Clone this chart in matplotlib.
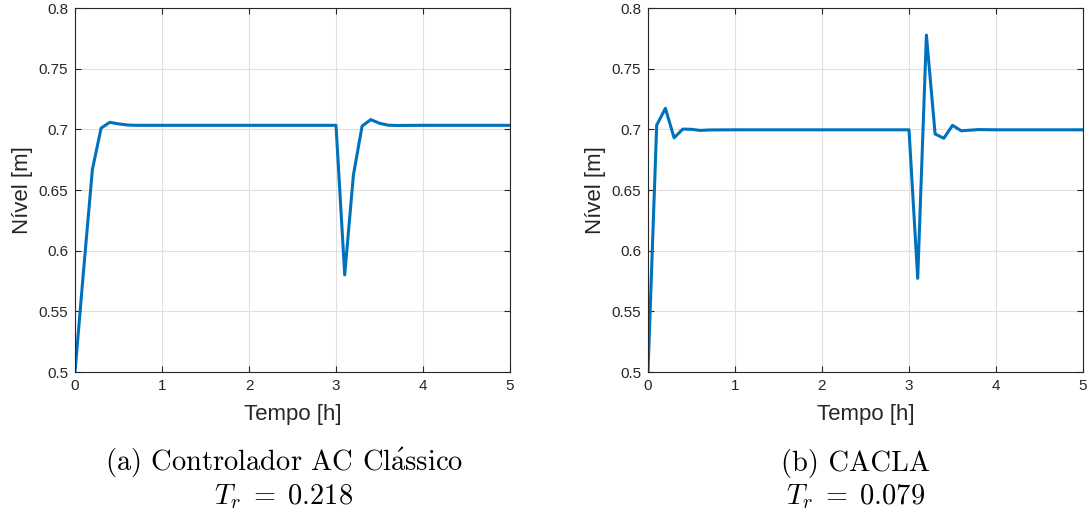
import numpy as np
import matplotlib
matplotlib.use("Agg")
import matplotlib.pyplot as plt

plt.rcParams['mathtext.fontset'] = 'cm'

# ---- data ----
t_a = [0.0, 0.1, 0.2, 0.3, 0.4, 0.5, 0.6, 0.7, 1.0, 2.0, 3.0, 3.1, 3.2, 3.3, 3.4, 3.5, 3.6, 3.7, 4.0, 5.0]
y_a = [0.5, 0.585, 0.667, 0.701, 0.7058, 0.7045, 0.7036, 0.7033, 0.7033, 0.7033, 0.7033,
       0.580, 0.6623, 0.7027, 0.708, 0.705, 0.7034, 0.7032, 0.7033, 0.7033]

t_b = [0.0, 0.1, 0.2, 0.3, 0.4, 0.5, 0.6, 0.7, 1.0, 2.0, 3.0, 3.1, 3.2, 3.3, 3.4, 3.5, 3.6, 3.7, 3.8, 4.0, 5.0]
y_b = [0.5, 0.7035, 0.7173, 0.693, 0.7002, 0.7, 0.6991, 0.6995, 0.6996, 0.6996, 0.6996,
       0.5772, 0.7777, 0.6962, 0.6926, 0.7033, 0.6988, 0.6993, 0.6998, 0.6996, 0.6996]

x_ticks = [0, 1, 2, 3, 4, 5]
y_ticks = [0.5, 0.55, 0.6, 0.65, 0.7, 0.75, 0.8]
y_ticklabels = ['0.5', '0.55', '0.6', '0.65', '0.7', '0.75', '0.8']
xlabel = 'Tempo [h]'
ylabel = 'Nível [m]'
captions = [r'(a) Controlador AC Cl$\mathrm{\acute{a}}$ssico', '(b) CACLA']
tr_labels = [r'$T_r\;=\;0.218$', r'$T_r\;=\;0.079$']

line_color = '#0072BD'
tick_color = '#262626'

fig = plt.figure(figsize=(10.88, 5.17), dpi=100)
axes_rects = [[75/1088, 1-372/517, 435/1088, 364/517],
              [648/1088, 1-372/517, 435/1088, 364/517]]
caption_x = [284/1088, 856/1088]

for i, (rect, t, y) in enumerate(zip(axes_rects, [t_a, t_b], [y_a, y_b])):
    ax = fig.add_axes(rect)
    ax.plot(t, y, color=line_color, linewidth=2.2)
    ax.set_xlim(0, 5)
    ax.set_ylim(0.5, 0.8)
    ax.set_xticks(x_ticks)
    ax.set_yticks(y_ticks)
    ax.set_yticklabels(y_ticklabels)
    ax.grid(True, color='#e0e0e0', linewidth=0.8)
    ax.set_axisbelow(True)
    for sp in ax.spines.values():
        sp.set_color(tick_color)
        sp.set_linewidth(0.8)
    ax.tick_params(direction='in', length=4, width=0.8, colors=tick_color,
                   labelsize=11, top=True, right=True, pad=5)
    for lab in ax.get_xticklabels() + ax.get_yticklabels():
        lab.set_fontfamily('Liberation Sans')
    ax.set_xlabel(xlabel, fontsize=16, family='Liberation Sans', color=tick_color, labelpad=8)
    ax.set_ylabel(ylabel, fontsize=16, family='Liberation Sans', color=tick_color, labelpad=4)
    fig.text(caption_x[i], 1-463/517, captions[i], ha='center', va='center',
             fontsize=20.5, family='cmr10', math_fontfamily='cm')
    fig.text(caption_x[i], 1-497/517, tr_labels[i], ha='center', va='center',
             fontsize=20.5)

fig.savefig('out.png', dpi=100)
